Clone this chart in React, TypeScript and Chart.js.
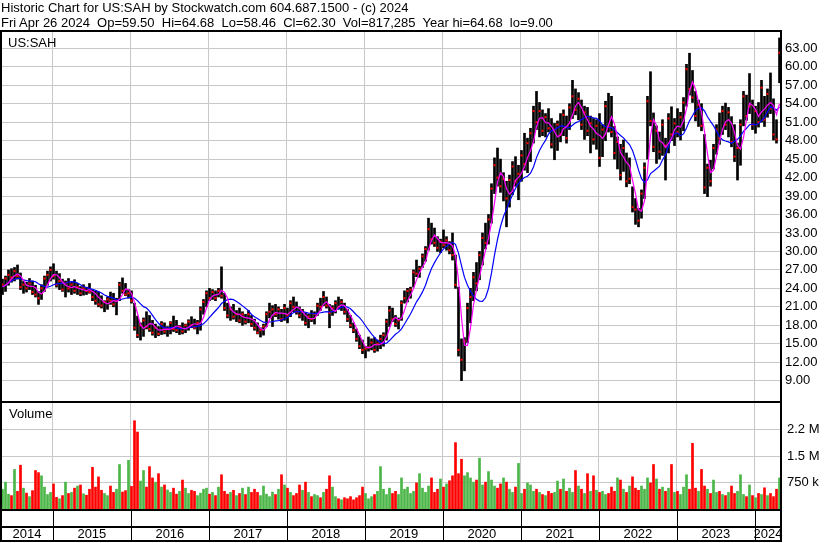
import React, { useEffect, useRef } from 'react';
import { Chart, registerables } from 'chart.js';

Chart.register(...registerables);

// ---------- text ----------
const TITLE_LINE_1 = 'Historic Chart for US:SAH by Stockwatch.com 604.687.1500 - (c) 2024';
const TITLE_LINE_2 = 'Fri Apr 26 2024  Op=59.50  Hi=64.68  Lo=58.46  Cl=62.30  Vol=817,285  Year hi=64.68  lo=9.00';
const SYMBOL = 'US:SAH';
const VOLUME_TITLE = 'Volume';

// ---------- axes ----------
const START_YEAR = 2014.335; // Apr 26 2014
const SPAN_YEARS = 10;
const YEAR_LABELS = ['2014', '2015', '2016', '2017', '2018', '2019', '2020', '2021', '2022', '2023', '2024'];
const YEAR_BOUNDARIES = [2015, 2016, 2017, 2018, 2019, 2020, 2021, 2022, 2023, 2024];
const PRICE_TICKS = [9, 12, 15, 18, 21, 24, 27, 30, 33, 36, 39, 42, 45, 48, 51, 54, 57, 60, 63];
const PRICE_MIN = 5.54;
const PRICE_MAX = 65.65;
const VOLUME_TICKS = [750000, 1500000, 2250000];
const VOLUME_TICK_LABELS = ['750 k', '1.5 M', '2.2 M'];
const VOLUME_MAX = 3030000;
const FAST_MA = 3;
const SLOW_MA = 10;

// ---------- data (bi-weekly bars) ----------
const HIGH = [
  25.5, 26.0, 27.0, 27.2, 27.4, 27.8, 26.5, 25.2, 25.0, 25.6,
  25.2, 24.5, 23.5, 24.6, 26.0, 26.8, 27.5, 28.0, 26.8, 26.4,
  25.5, 25.2, 25.6, 25.0, 25.4, 24.8, 24.3, 24.6, 24.2, 24.8,
  23.8, 23.6, 23.4, 22.8, 22.0, 22.6, 23.4, 23.2, 22.4, 25.0,
  25.7, 24.8, 23.8, 23.6, 21.6, 19.5, 18.4, 19.2, 20.2, 19.6,
  18.8, 18.2, 17.8, 18.6, 18.4, 17.8, 18.6, 19.5, 18.8, 18.0,
  18.4, 18.2, 18.9, 19.4, 19.0, 18.8, 21.0, 22.2, 23.6, 24.0,
  23.8, 23.6, 24.0, 27.5, 23.2, 21.6, 21.0, 21.4, 20.4, 20.8,
  20.2, 19.8, 20.4, 19.6, 19.0, 18.4, 17.6, 18.2, 20.2, 21.6,
  21.2, 21.4, 21.0, 20.6, 21.4, 20.8, 22.0, 22.6, 21.8, 21.0,
  20.6, 20.0, 19.8, 20.4, 20.2, 21.6, 22.4, 23.5, 22.6, 21.4,
  21.2, 22.0, 22.6, 22.2, 21.6, 20.6, 19.6, 18.4, 17.4, 16.4,
  15.6, 14.6, 16.1, 15.8, 16.0, 15.6, 16.4, 16.8, 19.0, 21.1,
  20.8, 19.6, 19.2, 22.0, 23.6, 24.0, 24.2, 27.0, 28.6, 27.6,
  29.6, 30.8, 35.4, 34.6, 33.8, 32.4, 32.0, 33.5, 32.4, 31.6,
  33.0, 29.4, 24.2, 15.8, 16.0, 21.6, 24.0, 26.6, 28.2, 30.0,
  33.0, 34.6, 36.0, 41.0, 45.2, 46.8, 45.0, 42.8, 41.4, 42.4,
  44.6, 45.4, 44.0, 46.4, 49.2, 48.4, 50.0, 53.6, 56.0, 54.2,
  53.0, 52.4, 53.2, 51.6, 50.8, 51.2, 52.4, 53.0, 52.0, 54.0,
  57.8, 56.4, 55.8, 54.6, 53.6, 53.4, 52.0, 51.6, 51.4, 52.4,
  50.6, 54.4, 55.7, 55.2, 50.3, 48.6, 47.4, 48.1, 46.0, 45.2,
  40.5, 38.6, 37.0, 40.0, 44.4, 55.2, 59.2, 52.5, 50.4, 49.4,
  51.4, 48.4, 52.4, 53.5, 51.6, 53.2, 52.6, 55.0, 60.4, 62.2,
  59.4, 56.0, 54.6, 54.0, 49.0, 44.2, 44.8, 47.4, 50.6, 52.5,
  53.6, 54.1, 53.4, 51.9, 50.6, 47.6, 51.4, 56.0, 55.4, 58.9,
  54.6, 53.6, 54.2, 57.8, 55.2, 56.4, 59.0, 54.8, 51.4, 64.68,
];

const LOW = [
  23.0, 23.5, 24.5, 25.0, 25.2, 25.5, 23.8, 23.2, 23.4, 23.8,
  23.0, 22.6, 21.4, 22.2, 23.5, 24.5, 25.2, 25.5, 24.2, 23.8,
  23.5, 22.6, 23.4, 23.0, 23.2, 23.0, 22.8, 22.9, 23.0, 23.2,
  22.0, 21.4, 21.0, 20.8, 20.2, 20.6, 21.4, 21.0, 19.7, 22.0,
  23.2, 22.8, 22.4, 21.6, 17.2, 16.0, 15.6, 16.2, 17.4, 17.0,
  16.4, 16.0, 16.3, 16.5, 16.6, 16.2, 16.6, 17.0, 16.8, 16.5,
  16.6, 16.8, 17.2, 17.6, 17.4, 16.6, 17.2, 19.8, 21.0, 22.0,
  22.2, 22.0, 22.6, 22.4, 20.4, 19.2, 18.8, 19.0, 18.6, 18.4,
  18.0, 18.2, 18.4, 17.8, 17.2, 16.6, 16.1, 16.4, 17.8, 19.2,
  17.8, 19.4, 19.0, 18.6, 18.8, 18.4, 19.4, 20.2, 19.8, 19.2,
  18.8, 18.0, 17.6, 18.6, 18.2, 19.6, 20.4, 21.2, 20.8, 17.6,
  19.6, 20.0, 20.6, 20.4, 19.8, 18.6, 17.6, 16.8, 15.4, 14.2,
  13.4, 12.7, 13.8, 14.0, 13.6, 13.8, 14.2, 14.6, 15.6, 17.8,
  18.6, 17.8, 17.4, 18.8, 21.6, 21.8, 22.4, 24.2, 25.9, 25.8,
  27.4, 28.4, 30.2, 31.2, 30.8, 30.0, 29.8, 30.6, 30.2, 29.6,
  28.6, 24.0, 13.0, 9.0, 10.6, 15.2, 18.4, 22.0, 23.6, 25.4,
  27.8, 30.4, 31.2, 34.6, 39.4, 40.6, 39.6, 38.2, 34.0, 37.2,
  39.2, 40.6, 38.4, 41.4, 43.2, 42.8, 44.6, 47.6, 49.8, 48.6,
  48.8, 48.6, 49.4, 46.8, 44.9, 46.4, 47.8, 48.8, 47.6, 49.8,
  51.6, 52.2, 51.4, 49.8, 48.2, 48.8, 46.0, 47.4, 46.6, 43.8,
  45.4, 48.0, 49.4, 48.6, 45.0, 43.4, 41.6, 43.0, 40.5, 41.0,
  36.4, 34.4, 34.0, 35.4, 38.6, 45.0, 50.4, 46.2, 44.3, 45.0,
  45.6, 41.6, 46.0, 48.0, 47.2, 48.6, 48.1, 49.6, 53.6, 55.4,
  54.2, 51.2, 50.3, 49.6, 39.4, 38.9, 40.6, 43.4, 45.8, 47.4,
  49.0, 49.8, 48.6, 47.0, 44.6, 41.6, 44.0, 50.4, 51.3, 52.4,
  49.8, 49.2, 50.2, 51.0, 50.3, 51.8, 52.4, 48.1, 47.6, 57.4,
];

const CLOSE = [
  24.6, 25.6, 26.2, 25.8, 26.8, 26.0, 24.2, 24.6, 24.0, 24.8,
  23.4, 23.0, 22.4, 24.0, 25.6, 26.2, 27.0, 26.0, 24.6, 25.2,
  23.8, 24.8, 24.0, 24.6, 23.6, 24.2, 23.2, 24.0, 23.6, 23.4,
  22.6, 22.0, 21.4, 21.2, 21.8, 22.2, 22.0, 21.4, 22.0, 24.6,
  23.6, 23.0, 23.2, 22.0, 17.6, 16.4, 18.0, 18.8, 17.8, 17.4,
  16.8, 17.6, 16.6, 18.2, 17.0, 17.4, 18.4, 17.4, 17.2, 17.8,
  17.0, 18.0, 18.6, 18.0, 17.6, 18.4, 20.6, 21.8, 23.2, 22.4,
  23.4, 22.4, 23.6, 22.8, 20.8, 19.6, 20.6, 19.4, 19.8, 18.8,
  19.8, 18.6, 19.8, 18.2, 17.6, 16.8, 17.2, 17.8, 19.8, 20.2,
  20.6, 19.8, 20.6, 19.0, 20.8, 19.6, 21.6, 21.0, 20.2, 19.6,
  20.2, 18.4, 19.4, 19.0, 19.8, 21.2, 21.0, 22.6, 21.2, 20.0,
  20.8, 21.6, 21.0, 21.8, 20.2, 19.0, 18.0, 17.2, 15.8, 14.6,
  14.0, 14.2, 14.4, 15.2, 14.0, 15.0, 15.8, 16.4, 18.6, 20.4,
  19.0, 18.2, 18.8, 21.6, 22.4, 23.6, 23.8, 26.6, 26.4, 27.2,
  29.2, 30.4, 33.6, 32.0, 31.4, 30.6, 31.6, 31.0, 31.8, 30.2,
  29.4, 24.6, 14.0, 12.4, 15.4, 20.8, 22.6, 25.8, 24.8, 29.4,
  32.2, 31.4, 35.2, 40.2, 44.0, 42.0, 40.6, 41.8, 38.6, 41.6,
  43.8, 41.4, 42.6, 45.6, 44.2, 47.6, 49.2, 52.8, 51.0, 52.8,
  49.6, 51.8, 50.0, 47.4, 49.8, 50.6, 49.0, 52.2, 48.4, 53.4,
  55.2, 53.0, 54.8, 50.6, 52.6, 49.6, 50.8, 48.2, 50.4, 45.2,
  49.8, 53.6, 50.2, 49.4, 46.0, 47.8, 42.4, 46.8, 41.4, 41.8,
  37.2, 36.8, 35.0, 39.4, 43.6, 54.4, 51.2, 47.0, 49.6, 46.2,
  50.6, 47.2, 51.6, 49.0, 50.8, 49.4, 51.8, 54.2, 59.6, 56.4,
  55.0, 52.0, 53.8, 50.4, 40.4, 43.6, 41.4, 46.8, 49.8, 48.4,
  52.8, 50.6, 52.6, 47.8, 45.4, 46.8, 50.6, 55.2, 52.0, 53.6,
  50.6, 52.8, 51.0, 56.6, 51.4, 55.6, 53.2, 49.0, 48.2, 62.3,
];

// thousands of shares
const VOLUME_K = [
  560, 760, 420, 380, 1120, 500, 1240, 590, 450, 350,
  520, 1090, 1030, 940, 620, 410, 470, 710, 330, 290,
  380, 760, 440, 470, 590, 650, 680, 430, 390, 560,
  1180, 620, 910, 530, 440, 380, 650, 470, 560, 1260,
  480, 520, 1380, 640, 2500, 2180, 790, 1090, 620, 1200,
  880, 760, 1000, 620, 680, 540, 470, 590, 420, 500,
  820, 590, 440, 530, 500, 380, 450, 560, 590, 420,
  470, 380, 620, 970, 500, 420, 470, 530, 380, 440,
  590, 410, 620, 470, 560, 470, 380, 650, 420, 350,
  480, 410, 560, 970, 680, 590, 470, 380, 440, 680,
  530, 760, 470, 350, 410, 380, 320, 470, 560, 940,
  620, 350, 290, 260, 320, 290, 350, 260, 320, 380,
  620, 440, 290, 350, 410, 500, 1200, 560, 410, 590,
  440, 500, 410, 880, 560, 620, 440, 500, 740, 1000,
  590, 470, 650, 880, 470, 560, 850, 620, 710, 800,
  940, 1880, 1000, 1410, 940, 1030, 880, 760, 820, 1440,
  680, 760, 1060, 820, 650, 590, 710, 880, 760, 560,
  470, 620, 1290, 440, 560, 740, 680, 500, 560, 470,
  410, 380, 500, 440, 470, 790, 560, 850, 500, 590,
  470, 1090, 650, 560, 440, 1000, 500, 940, 530, 470,
  500, 410, 440, 620, 500, 880, 820, 560, 470, 650,
  910, 590, 530, 650, 560, 880, 740, 1260, 850, 560,
  620, 500, 590, 1260, 470, 500, 410, 620, 970, 560,
  1860, 590, 500, 1120, 650, 560, 440, 820, 470, 500,
  410, 380, 470, 650, 440, 500, 970, 410, 350, 680,
  380, 320, 440, 410, 600, 380, 440, 350, 560, 880,
];

const FONT = "'Liberation Sans', Arial, sans-serif";

function sma(values: number[], w: number): number[] {
  return values.map((_, i) => {
    const s = Math.max(0, i - w + 1);
    let sum = 0;
    for (let j = s; j <= i; j++) sum += values[j];
    return sum / (i - s + 1);
  });
}

export default function App() {
  const canvasRef = useRef<HTMLCanvasElement | null>(null);

  useEffect(() => {
    const canvas = canvasRef.current;
    if (!canvas) return;
    const n = HIGH.length;
    const step = SPAN_YEARS / n;
    const xs = HIGH.map((_, i) => START_YEAR + (i + 0.5) * step);
    const mid = HIGH.map((h, i) => (h + LOW[i]) / 2);
    const fast = sma(mid, FAST_MA);
    const slow = sma(mid, SLOW_MA);
    const volColors = CLOSE.map((c, i) => {
      if (i === 0) return '#4cb648';
      if (c > CLOSE[i - 1]) return '#4cb648';
      if (c < CLOSE[i - 1]) return '#ff0000';
      return '#a8a8a8';
    });
    const endYear = START_YEAR + SPAN_YEARS;
    const labelPositions = YEAR_LABELS.map((lab) => {
      const y = parseInt(lab, 10);
      const a = Math.max(y, START_YEAR);
      const b = Math.min(y + 1, endYear);
      return (a + b) / 2;
    });

    const noPadX = (s: any, h: number) => {
      s.height = h;
      s.paddingLeft = 0;
      s.paddingRight = 0;
    };
    const noPadY = (s: any) => {
      s.width = 49;
      s.paddingTop = 0;
      s.paddingBottom = 0;
    };

    const framePlugin = {
      id: 'frame',
      afterDraw(chart: any) {
        const { ctx, chartArea: ca, scales } = chart;
        const sep = scales.yv.top;
        const xs2 = scales.x;
        ctx.save();
        ctx.strokeStyle = '#000';
        ctx.lineWidth = 2;
        ctx.beginPath();
        ctx.moveTo(0, ca.top - 1); ctx.lineTo(ca.right + 1, ca.top - 1);
        ctx.moveTo(0, sep); ctx.lineTo(ca.right + 1, sep);
        ctx.moveTo(0, ca.bottom + 1); ctx.lineTo(ca.right + 1, ca.bottom + 1);
        ctx.moveTo(0, ca.bottom + 18); ctx.lineTo(ca.right + 1, ca.bottom + 18);
        ctx.moveTo(0, ca.bottom + 32); ctx.lineTo(ca.right + 1, ca.bottom + 32);
        ctx.moveTo(ca.left, ca.top - 2); ctx.lineTo(ca.left, ca.bottom + 33);
        ctx.moveTo(ca.right, ca.top - 2); ctx.lineTo(ca.right, ca.bottom + 33);
        ctx.stroke();
        ctx.lineWidth = 1;
        ctx.beginPath();
        YEAR_BOUNDARIES.forEach((y) => {
          const px = Math.round(xs2.getPixelForValue(y)) + 0.5;
          ctx.moveTo(px, ca.bottom + 1);
          ctx.lineTo(px, ca.bottom + 32);
        });
        ctx.stroke();
        ctx.restore();
      },
    };

    const chart = new Chart(canvas, {
      type: 'bar',
      data: {
        datasets: [
          {
            type: 'line',
            label: 'fast',
            data: xs.map((x, i) => ({ x, y: fast[i] })),
            borderColor: '#ff00ff',
            borderWidth: 1.2,
            pointRadius: 0,
            tension: 0,
            xAxisID: 'x',
            yAxisID: 'y',
            order: 1,
          } as any,
          {
            type: 'line',
            label: 'slow',
            data: xs.map((x, i) => ({ x, y: slow[i] })),
            borderColor: '#0000ff',
            borderWidth: 1.2,
            pointRadius: 0,
            tension: 0,
            xAxisID: 'x',
            yAxisID: 'y',
            order: 2,
          } as any,
          {
            type: 'line',
            label: 'close',
            data: xs.map((x, i) => ({ x, y: CLOSE[i] })),
            showLine: false,
            pointStyle: 'rect',
            pointRadius: 1.45,
            pointBorderWidth: 0,
            pointBackgroundColor: '#ff0000',
            borderColor: '#ff0000',
            xAxisID: 'x',
            yAxisID: 'y',
            order: 3,
          } as any,
          {
            type: 'bar',
            label: 'price',
            data: xs.map((x, i) => ({ x, y: [LOW[i], HIGH[i]] })),
            backgroundColor: '#000000',
            barThickness: 2,
            grouped: false,
            xAxisID: 'x',
            yAxisID: 'y',
            order: 4,
          } as any,
          {
            type: 'bar',
            label: 'volume',
            data: xs.map((x, i) => ({ x, y: VOLUME_K[i] * 1000 })),
            backgroundColor: volColors,
            barThickness: 2,
            grouped: false,
            xAxisID: 'x',
            yAxisID: 'yv',
            order: 5,
          } as any,
        ],
      },
      options: {
        responsive: false,
        animation: false,
        devicePixelRatio: 1,
        events: [],
        layout: { autoPadding: false, padding: { top: 32, left: 1, right: 0, bottom: 0 } },
        plugins: { legend: { display: false }, tooltip: { enabled: false } },
        scales: {
          x: {
            type: 'linear',
            position: 'bottom',
            offset: false,
            min: START_YEAR,
            max: endYear,
            grid: { color: '#c8c8c8', drawTicks: false, lineWidth: 1, offset: false },
            border: { display: false },
            ticks: { display: false },
            afterBuildTicks: (s: any) => {
              s.ticks = YEAR_BOUNDARIES.map((v) => ({ value: v }));
            },
            afterFit: (s: any) => noPadX(s, 0),
          },
          xl: {
            type: 'linear',
            position: 'bottom',
            offset: false,
            min: START_YEAR,
            max: endYear,
            grid: { display: false, drawTicks: false, offset: false },
            border: { display: false },
            ticks: {
              autoSkip: false,
              maxRotation: 0,
              minRotation: 0,
              padding: 18,
              color: '#000',
              font: { family: FONT, size: 13 },
              callback: (_v: any, i: number) => YEAR_LABELS[i],
            },
            afterBuildTicks: (s: any) => {
              s.ticks = labelPositions.map((v) => ({ value: v }));
            },
            afterFit: (s: any) => noPadX(s, 34),
          },
          y: {
            type: 'linear',
            position: 'right',
            stack: 'panels',
            stackWeight: 370,
            min: PRICE_MIN,
            max: PRICE_MAX,
            grid: { color: '#c8c8c8', drawTicks: false, lineWidth: 1 },
            border: { display: false },
            ticks: {
              autoSkip: false,
              padding: 4,
              color: '#000',
              font: { family: FONT, size: 13 },
              callback: (v: any) => Number(v).toFixed(2),
            },
            afterBuildTicks: (s: any) => {
              s.ticks = PRICE_TICKS.map((v) => ({ value: v }));
            },
            afterFit: noPadY,
          },
          yv: {
            type: 'linear',
            position: 'right',
            stack: 'panels',
            stackWeight: 107,
            min: 0,
            max: VOLUME_MAX,
            grid: { color: '#c8c8c8', drawTicks: false, lineWidth: 1 },
            border: { display: false },
            ticks: {
              autoSkip: false,
              padding: 6,
              color: '#000',
              font: { family: FONT, size: 13 },
              callback: (_v: any, i: number) => VOLUME_TICK_LABELS[i],
            },
            afterBuildTicks: (s: any) => {
              s.ticks = VOLUME_TICKS.map((v) => ({ value: v }));
            },
            afterFit: noPadY,
          },
        },
      } as any,
      plugins: [framePlugin],
    });
    return () => chart.destroy();
  }, []);

  const textStyle: React.CSSProperties = {
    position: 'absolute',
    fontFamily: FONT,
    fontSize: 13,
    lineHeight: '15px',
    color: '#000',
    whiteSpace: 'pre',
    margin: 0,
  };

  return (
    <div style={{ position: 'fixed', left: 0, top: 0, width: 830, height: 543, background: '#fff', overflow: 'hidden' }}>
      <canvas ref={canvasRef} width={830} height={543} style={{ position: 'absolute', left: 0, top: 0, width: 830, height: 543 }} />
      <div style={{ ...textStyle, left: 1, top: 0 }}>{TITLE_LINE_1}{'\n'}{TITLE_LINE_2}</div>
      <div style={{ ...textStyle, left: 8, top: 35 }}>{SYMBOL}</div>
      <div style={{ ...textStyle, left: 9, top: 406 }}>{VOLUME_TITLE}</div>
    </div>
  );
}
